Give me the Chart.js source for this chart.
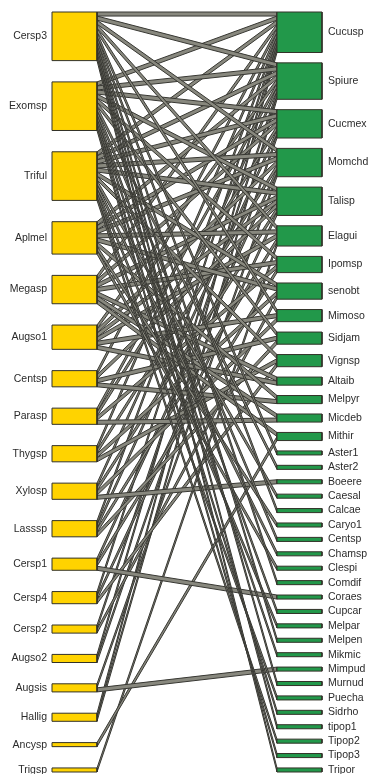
<!DOCTYPE html>
<html>
<head>
<meta charset="utf-8">
<script src="https://cdn.jsdelivr.net/npm/chart.js@4.4.0/dist/chart.umd.min.js"></script>
<style>
  html, body { margin: 0; padding: 0; background: #fff; }
  canvas { display: block; }
</style>
</head>
<body>
<canvas id="webChart" width="391" height="774"></canvas>
<script>
const lowerSpecies = ['Cersp3', 'Exomsp', 'Triful', 'Aplmel', 'Megasp', 'Augso1', 'Centsp', 'Parasp',
  'Thygsp', 'Xylosp', 'Lasssp', 'Cersp1', 'Cersp4', 'Cersp2', 'Augso2', 'Augsis', 'Hallig', 'Ancysp', 'Trigsp'];

const higherSpecies = ['Cucusp', 'Spiure', 'Cucmex', 'Momchd', 'Talisp', 'Elagui', 'Ipomsp', 'senobt',
  'Mimoso', 'Sidjam', 'Vignsp', 'Altaib', 'Melpyr', 'Micdeb', 'Mithir', 'Aster1', 'Aster2', 'Boeere',
  'Caesal', 'Calcae', 'Caryo1', 'Centsp', 'Chamsp', 'Clespi', 'Comdif', 'Coraes', 'Cupcar', 'Melpar',
  'Melpen', 'Mikmic', 'Mimpud', 'Murnud', 'Puecha', 'Sidrho', 'tipop1', 'Tipop2', 'Tipop3', 'Tripor'];

// partners of each lower species (index into higherSpecies)
const partners = [
  [0, 1, 3, 5, 8, 15, 19, 24, 28, 31, 34, 37],
  [0, 1, 2, 4, 6, 9, 16, 21, 26, 29, 33, 36],
  [0, 1, 2, 3, 4, 7, 10, 18, 22, 27, 32, 35],
  [1, 2, 3, 5, 7, 12, 20, 23],
  [0, 2, 4, 6, 11, 13, 14],
  [1, 3, 4, 5, 8, 11],
  [0, 4, 9, 12],
  [1, 2, 6, 13],
  [0, 3, 7, 10],
  [1, 4, 8, 17],
  [0, 2, 5, 9],
  [3, 6, 25],
  [0, 4, 10],
  [1, 7],
  [0, 2],
  [3, 30],
  [0, 1],
  [14],
  [5]
];

const unit = 4.05;          // height of one interaction
const yTop = 12, yBottom = 772;
const leftBox = [52, 97], rightBox = [277, 322];

const lowerDeg = partners.map(p => p.length);
const higherDeg = higherSpecies.map((_, j) => partners.filter(p => p.includes(j)).length);

function stackBoxes(counts) {
  const total = counts.reduce((a, b) => a + b, 0);
  const gap = (yBottom - yTop - total * unit) / (counts.length - 1);
  let y = yTop;
  return counts.map(c => { const y0 = y; y += c * unit + gap; return y0; });
}
const lowerY = stackBoxes(lowerDeg);
const higherY = stackBoxes(higherDeg);

function polygon(pts, fillColor, lineColor, lineWidth, order) {
  return {
    type: 'line',
    data: pts.map(([x, y]) => ({ x, y })),
    backgroundColor: fillColor,
    borderColor: lineColor,
    borderWidth: lineWidth,
    pointRadius: 0,
    tension: 0,
    fill: 'shape',
    order: order
  };
}

const datasets = [];

// links, stacked inside each box in partner order
const higherUsed = higherSpecies.map(() => 0);
partners.forEach((list, i) => {
  list.slice().sort((a, b) => a - b).forEach((j, k) => {
    const a = lowerY[i] + k * unit;
    const b = higherY[j] + higherUsed[j] * unit;
    higherUsed[j]++;
    datasets.push(polygon([
      [leftBox[1], a], [rightBox[0], b], [rightBox[0], b + unit], [leftBox[1], a + unit], [leftBox[1], a]
    ], 'rgb(136,136,126)', 'rgb(55,55,50)', 1, 2));
  });
});

function box(x, y0, h, color) {
  return polygon([[x[0], y0], [x[1], y0], [x[1], y0 + h], [x[0], y0 + h], [x[0], y0]],
    color, 'rgb(50,50,40)', 1, 1);
}
lowerSpecies.forEach((_, i) => datasets.push(box(leftBox, lowerY[i], lowerDeg[i] * unit, '#FFD300')));
higherSpecies.forEach((_, j) => datasets.push(box(rightBox, higherY[j], higherDeg[j] * unit, '#22984a')));

const speciesLabels = {
  id: 'speciesLabels',
  afterDatasetsDraw(chart) {
    const { ctx, scales: { x, y } } = chart;
    ctx.save();
    ctx.font = '10.5px "Liberation Sans", Arial, sans-serif';
    ctx.fillStyle = '#2b2b2b';
    ctx.textBaseline = 'middle';
    ctx.textAlign = 'right';
    lowerSpecies.forEach((name, i) => {
      ctx.fillText(name, x.getPixelForValue(47), y.getPixelForValue(lowerY[i] + lowerDeg[i] * unit / 2));
    });
    ctx.textAlign = 'left';
    higherSpecies.forEach((name, j) => {
      ctx.fillText(name, x.getPixelForValue(328), y.getPixelForValue(higherY[j] + higherDeg[j] * unit / 2));
    });
    ctx.restore();
  }
};

const ctx = document.getElementById('webChart').getContext('2d');
const webChart = new Chart(ctx, {
  type: 'line',
  data: { datasets: datasets },
  options: {
    responsive: false,
    animation: false,
    events: [],
    layout: { padding: 0 },
    scales: {
      x: { type: 'linear', min: 0, max: 391, display: false },
      y: { type: 'linear', min: 0, max: 774, reverse: true, display: false }
    },
    plugins: {
      legend: { display: false },
      tooltip: { enabled: false }
    }
  },
  plugins: [speciesLabels]
});
</script>
</body>
</html>
